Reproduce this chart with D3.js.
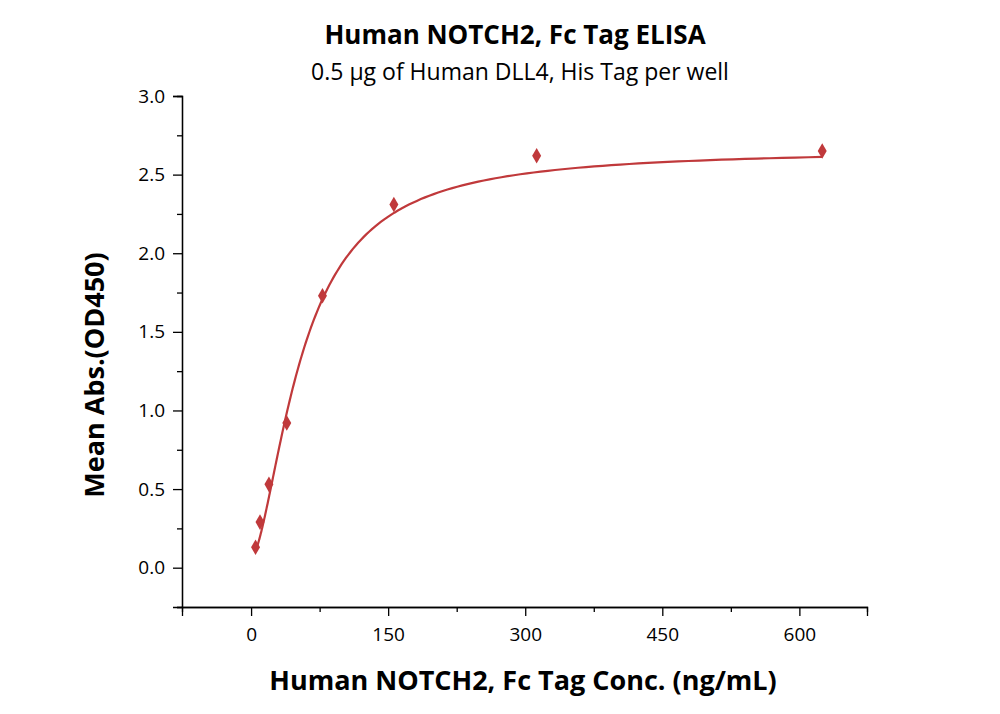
<!DOCTYPE html><html><head><meta charset="utf-8"><script src="https://cdn.jsdelivr.net/npm/d3@7"></script>
<style>body{margin:0;background:#fff}text{font-family:"Open Sans",sans-serif}</style></head><body>
<script>
const concs=[4.88,9.77,19.53,39.06,78.13,156.25,312.5,625];
const absVals=[0.13,0.29,0.53,0.92,1.73,2.31,2.62,2.65];
const xTicks=[0,150,300,450,600];
const yTicks=[0,0.5,1,1.5,2,2.5,3];
const fit={a:0.06,d:2.66,c:56,b:1.65};
const svg=d3.select("body").append("svg").attr("width",1000).attr("height",714);
const x=d3.scaleLinear().domain([-75.6,674]).range([182,867]);
const y=d3.scaleLinear().domain([-0.25,3]).range([607,96]);
const col="#c0393b";
const gx=svg.append("g").attr("transform","translate(0,607)");
gx.call(d3.axisBottom(x).tickValues(xTicks).tickSize(9).tickPadding(12).tickFormat(d3.format("d")));
gx.append("g").call(d3.axisBottom(x).tickValues([75,225,375,525]).tickSize(5).tickFormat(""));
const gy=svg.append("g").attr("transform","translate(182,0)");
gy.call(d3.axisLeft(y).tickValues(yTicks).tickSize(9).tickPadding(8).tickFormat(d3.format(".1f")));
gy.append("g").call(d3.axisLeft(y).tickValues([-0.25,0.25,0.75,1.25,1.75,2.25,2.75]).tickSize(5).tickFormat(""));
svg.selectAll(".domain").attr("stroke","#000").attr("stroke-width",1.3);
svg.selectAll(".tick line").attr("stroke","#000").attr("stroke-width",1.3);
svg.selectAll(".tick text").attr("font-size",19).attr("fill","#000");
const f=v=>fit.d+(fit.a-fit.d)/(1+Math.pow(v/fit.c,fit.b));
const xs=d3.range(0,201).map(i=>concs[0]*Math.pow(concs[7]/concs[0],i/200));
svg.append("path").attr("d",d3.line().x(v=>x(v)).y(v=>y(f(v)))(xs)).attr("fill","none").attr("stroke",col).attr("stroke-width",2.2);
svg.selectAll(".pt").data(concs).enter().append("path").attr("d",d3.symbol(d3.symbolDiamond,70)).attr("transform",(d,i)=>`translate(${x(d)},${y(absVals[i])})`).attr("fill",col);
svg.append("text").attr("x",515).attr("y",44).attr("text-anchor","middle").attr("font-size",26).attr("font-weight","bold").text("Human NOTCH2, Fc Tag ELISA");
svg.append("text").attr("x",520).attr("y",80).attr("text-anchor","middle").attr("font-size",23).text("0.5 μg of Human DLL4, His Tag per well");
svg.append("text").attr("transform","translate(104,375) rotate(-90)").attr("text-anchor","middle").attr("font-size",27).attr("font-weight","bold").text("Mean Abs.(OD450)");
svg.append("text").attr("x",523).attr("y",690).attr("text-anchor","middle").attr("font-size",27).attr("font-weight","bold").text("Human NOTCH2, Fc Tag Conc. (ng/mL)");
</script></body></html>
